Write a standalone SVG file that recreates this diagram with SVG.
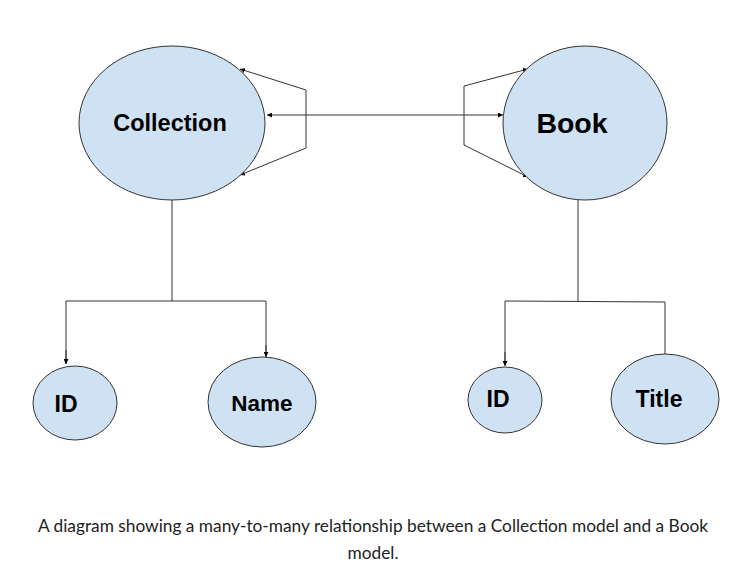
<svg xmlns="http://www.w3.org/2000/svg" width="750" height="576" viewBox="0 0 750 576">
<defs>
<style>
.node ellipse{fill:#cfe2f3;stroke:#333;stroke-width:1}
.node text{font-family:"Liberation Sans",Arial,sans-serif;font-weight:bold;fill:#000;text-anchor:middle}
.conn line,.conn polyline{stroke:#333;stroke-width:1;fill:none}
.cap{font-family:Lato,sans-serif;font-size:17.3px;fill:#222;text-anchor:middle}
</style>
<marker id="a" viewBox="0 0 10 10" refX="10" refY="5" markerWidth="5" markerHeight="5" orient="auto" markerUnits="userSpaceOnUse"><path d="M0,0L10,5L0,10z" fill="#000"/></marker>
</defs>
<rect width="750" height="576" fill="#fff"/>
<g class="conn">
<line x1="306" y1="90" x2="306" y2="148"/>
<line x1="306" y1="90" x2="240" y2="69" marker-end="url(#a)"/>
<line x1="306" y1="148" x2="240" y2="175" marker-end="url(#a)"/>
<line x1="385" y1="115" x2="267" y2="115" marker-end="url(#a)"/>
<line x1="385" y1="115" x2="503" y2="115" marker-end="url(#a)"/>
<line x1="464" y1="86" x2="464" y2="145"/>
<line x1="464" y1="86" x2="528" y2="69" marker-end="url(#a)"/>
<line x1="464" y1="145" x2="528" y2="177" marker-end="url(#a)"/>
<line x1="172" y1="200" x2="172" y2="301"/>
<polyline points="66,364 66,301 266,301 266,357"/>
<line x1="66" y1="350" x2="66" y2="364" marker-end="url(#a)"/>
<line x1="266" y1="345" x2="266" y2="357" marker-end="url(#a)"/>
<line x1="578" y1="200" x2="578" y2="301"/>
<polyline points="505,365 505,301 665,302 665,354"/>
<line x1="505" y1="352" x2="505" y2="366" marker-end="url(#a)"/>
</g>
<g id="collection" class="node"><ellipse cx="172" cy="123" rx="93" ry="77"/><text x="170" y="131" font-size="23.5">Collection</text></g>
<g id="book" class="node"><ellipse cx="585" cy="123" rx="82" ry="77"/><text x="572" y="133" font-size="28.5">Book</text></g>
<g id="c-id" class="node"><ellipse cx="75" cy="403" rx="42" ry="37"/><text x="66" y="412" font-size="23">ID</text></g>
<g id="c-name" class="node"><ellipse cx="262" cy="402" rx="54" ry="45"/><text x="262" y="411" font-size="22.5">Name</text></g>
<g id="b-id" class="node"><ellipse cx="505" cy="400" rx="37" ry="33"/><text x="498" y="407" font-size="23">ID</text></g>
<g id="b-title" class="node"><ellipse cx="665" cy="399" rx="54" ry="45"/><text x="659" y="407" font-size="23">Title</text></g>
<text class="cap" x="373" y="532">A diagram showing a many-to-many relationship between a Collection model and a Book</text>
<text class="cap" x="373" y="559">model.</text>
</svg>
